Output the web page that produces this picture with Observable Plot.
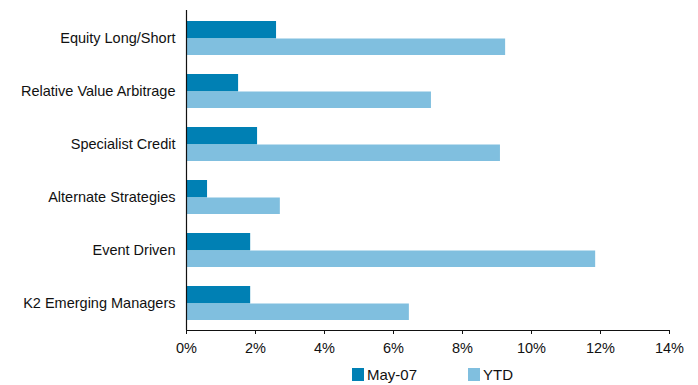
<!DOCTYPE html>
<html>
<head>
<meta charset="utf-8">
<script src="https://cdn.jsdelivr.net/npm/d3@7"></script>
<script src="https://cdn.jsdelivr.net/npm/@observablehq/plot@0.6"></script>
<style>
  html, body { margin: 0; padding: 0; background: #fff; }
  #wrap { position: relative; width: 698px; height: 385px; overflow: hidden; font-family: "Liberation Sans", Arial, sans-serif; }
  #legend { position: absolute; left: 352px; top: 366px; display: flex; align-items: center; font-size: 15px; line-height: 17px; color: #111; }
  .sw { display: inline-block; width: 12px; height: 13px; margin-right: 3px; }
  .item { display: flex; align-items: center; }
</style>
</head>
<body>
<div id="wrap"><div id="chart"></div><div id="legend"></div></div>
<script>
const categories = ["Equity Long/Short", "Relative Value Arbitrage", "Specialist Credit", "Alternate Strategies", "Event Driven", "K2 Emerging Managers"];
const series = ["May-07", "YTD"];
const may07 = [2.61, 1.51, 2.06, 0.61, 1.86, 1.86];
const ytd = [9.25, 7.10, 9.10, 2.72, 11.86, 6.46];
const xTicks = [0, 2, 4, 6, 8, 10, 12, 14];
const colors = ["#0080B4", "#80BFDF"];

const mayData = categories.map((c, i) => ({category: c, value: may07[i]}));
const ytdData = categories.map((c, i) => ({category: c, value: ytd[i]}));

const chart = Plot.plot({
  width: 698,
  height: 362,
  marginLeft: 186,
  marginRight: 29,
  marginTop: 10,
  marginBottom: 32,
  style: {fontFamily: "Liberation Sans, Arial, sans-serif", fontSize: "14.5px", color: "#111", background: "#fff"},
  x: {domain: [0, 14], ticks: xTicks, tickFormat: d => d + "%", tickSize: 4, tickPadding: 8, label: null},
  y: {domain: categories, paddingInner: 0.36, paddingOuter: 0.18, tickSize: 0, tickPadding: 11, label: null},
  marks: [
    Plot.barX(mayData, {x: "value", y: "category", fill: colors[0], insetBottom: 16.5}),
    Plot.barX(ytdData, {x: "value", y: "category", fill: colors[1], insetTop: 17.5}),
    Plot.ruleX([0], {stroke: "#111", strokeWidth: 1.2}),
    Plot.frame({anchor: "bottom", stroke: "#111"})
  ]
});
document.getElementById("chart").appendChild(chart);

const legend = document.getElementById("legend");
series.forEach((s, i) => {
  const item = document.createElement("span");
  item.className = "item";
  item.style.marginRight = i === 0 ? "51px" : "0";
  const sw = document.createElement("span");
  sw.className = "sw";
  sw.style.background = colors[i];
  item.appendChild(sw);
  item.appendChild(document.createTextNode(s));
  legend.appendChild(item);
});
</script>
</body>
</html>
